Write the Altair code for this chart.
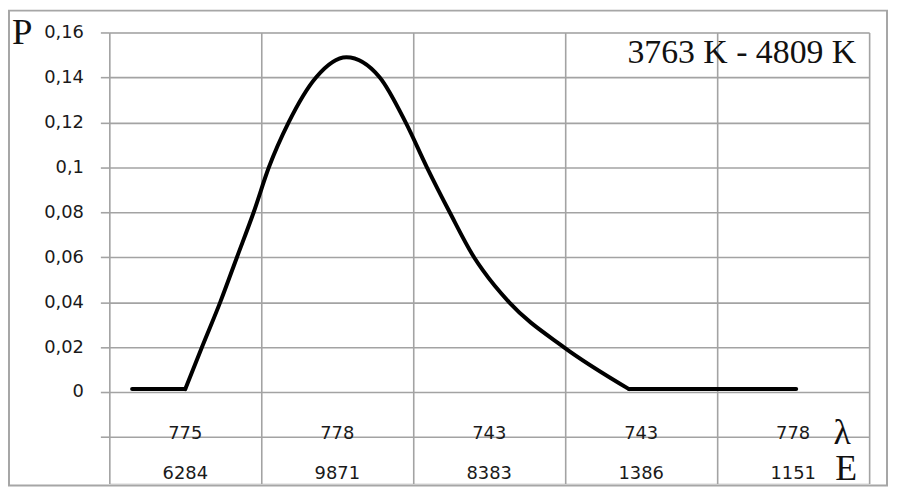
import altair as alt
import pandas as pd

# ---- data ----
col_pos = [0.5, 1.5, 2.5, 3.5, 4.5]
lambda_labels = ["775", "778", "743", "743", "778"]
energy_labels = ["6284", "9871", "8383", "1386", "1151"]

# curve points (x in category-column units, P values); segment id splits flat tails
curve_x = [0.15, 0.50,
           0.50, 0.61, 0.73, 0.84, 0.95, 1.05, 1.18, 1.36, 1.56,
           1.78, 1.95, 2.09, 2.24, 2.40, 2.46, 2.63, 2.99, 3.42,
           3.42, 4.52]
curve_p = [0.0013, 0.0013,
           0.0013, 0.02, 0.04, 0.06, 0.08, 0.10, 0.12, 0.14, 0.149,
           0.14, 0.12, 0.10, 0.08, 0.06, 0.054, 0.04, 0.02, 0.0013,
           0.0013, 0.0013]
curve_seg = ["a", "a",
             "b", "b", "b", "b", "b", "b", "b", "b", "b",
             "b", "b", "b", "b", "b", "b", "b", "b", "b",
             "c", "c"]

y_ticks = [-0.02, 0, 0.02, 0.04, 0.06, 0.08, 0.10, 0.12, 0.14, 0.16]
x_grid = [0, 1, 2, 3, 4, 5]
range_text = "3763 K - 4809 K"

curve_df = pd.DataFrame({"x": curve_x, "p": curve_p, "seg": curve_seg})
lab_df = pd.DataFrame({"x": col_pos, "lam": lambda_labels, "en": energy_labels})

GRID = "#a3a3a3"
SANS = "DejaVu Sans"
SERIF = "Liberation Serif"

x_scale = alt.Scale(domain=[0, 5], nice=False, zero=False)
y_scale = alt.Scale(domain=[-0.04066, 0.16], nice=False, zero=False)

line = alt.Chart(curve_df).mark_line(
    color="black", strokeWidth=4, interpolate="monotone", strokeCap="round",
    strokeJoin="round"
).encode(
    x=alt.X("x:Q", scale=x_scale,
            axis=alt.Axis(values=x_grid, grid=True, labels=False, ticks=False,
                          domain=False, title=None, gridColor=GRID, gridWidth=1.6,
                          gridOpacity=1)),
    y=alt.Y("p:Q", scale=y_scale,
            axis=alt.Axis(values=y_ticks, grid=True, domain=False, title=None,
                          tickSize=9, tickColor=GRID, tickWidth=1.6,
                          gridColor=GRID, gridWidth=1.6, gridOpacity=1,
                          labelPadding=17, labelFont=SANS, labelFontSize=18,
                          labelColor="#1a1a1a",
                          labelExpr="datum.value < -0.001 ? '' : replace(toString(round(datum.value*100)/100), '.', ',')")),
    detail="seg:N",
)

lam_text = alt.Chart(lab_df).mark_text(
    font=SANS, fontSize=18, color="#1a1a1a", baseline="middle", align="center"
).encode(x=alt.X("x:Q", scale=x_scale), y=alt.value(404), text="lam:N")

en_text = alt.Chart(lab_df).mark_text(
    font=SANS, fontSize=18, color="#1a1a1a", baseline="middle", align="center"
).encode(x=alt.X("x:Q", scale=x_scale), y=alt.value(445), text="en:N")

def label(txt, x, y, size, align="left"):
    return alt.Chart(pd.DataFrame({"t": [txt]})).mark_text(
        font=SERIF, fontSize=size, color="#111111", align=align, baseline="alphabetic"
    ).encode(x=alt.value(x), y=alt.value(y), text="t:N")

p_lab = label("P", -98, 12, 37)
lam_sym = label("λ", 729, 414, 36)
e_sym = label("E", 731, 451, 36)
title_lab = label(range_text, 752, 31, 34, align="right")

border = alt.Chart(pd.DataFrame({"a": [0]})).mark_rect(
    fillOpacity=0, stroke="#a6a6a6", strokeWidth=2
).encode(x=alt.value(-101), x2=alt.value(783), y=alt.value(-22), y2=alt.value(456))

chart = alt.layer(
    border, line, lam_text, en_text, p_lab, lam_sym, e_sym, title_lab
).properties(
    width=765, height=454,
    padding={"left": 102, "top": 23, "right": 20, "bottom": 4},
    autosize=alt.AutoSizeParams(type="none"),
).configure_view(strokeWidth=0).configure(background="white")

chart.save("out.html", embed_options={"renderer": "svg", "actions": False})
